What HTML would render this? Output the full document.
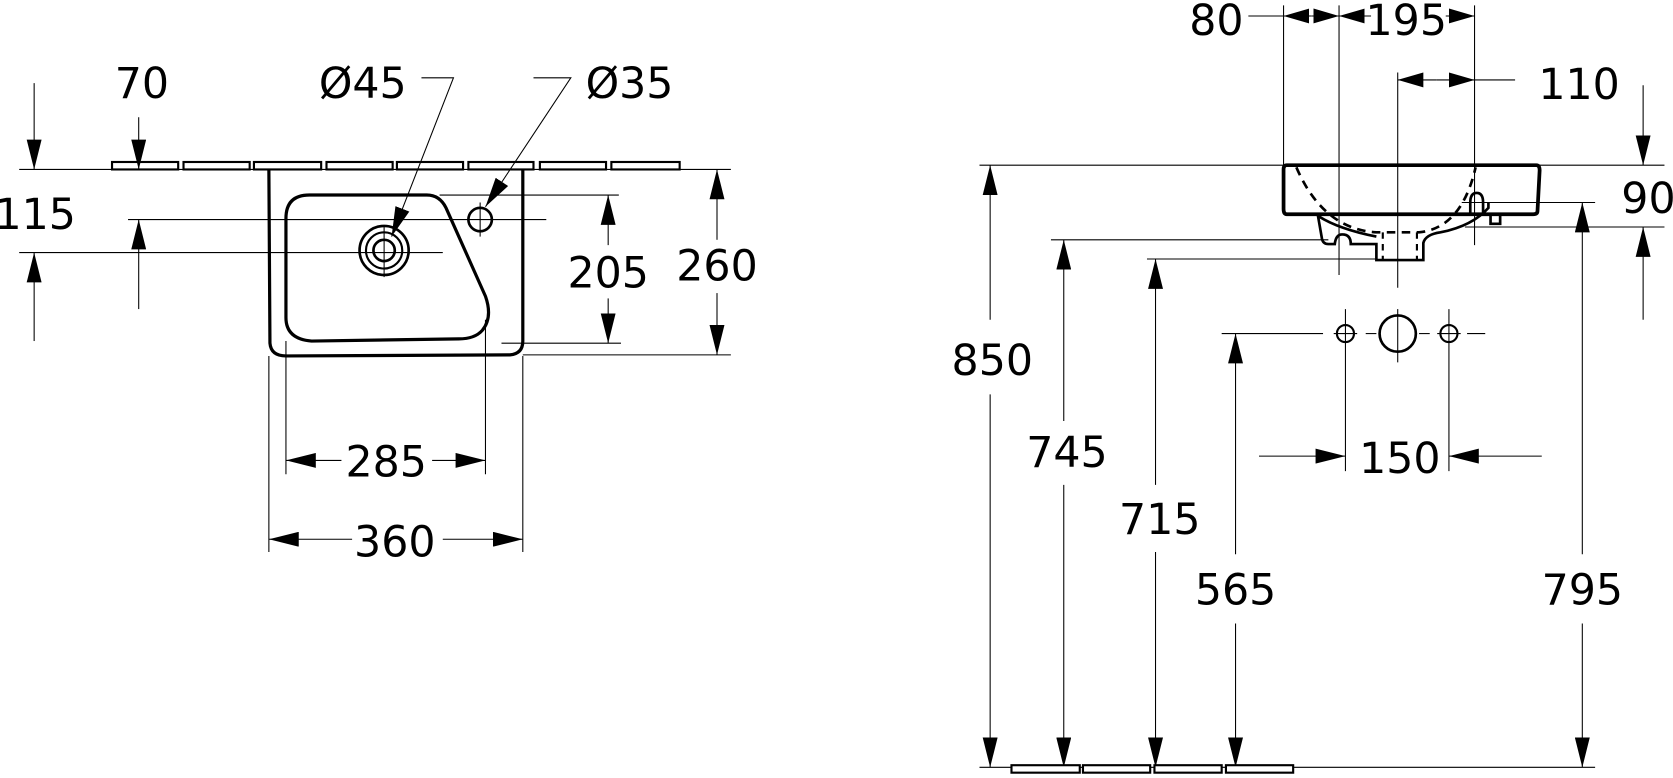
<!DOCTYPE html>
<html><head><meta charset="utf-8"><style>
html,body{margin:0;padding:0;background:#fff;}
svg{display:block;}
text{font-family:"DejaVu Sans","Liberation Sans",sans-serif;font-size:40px;fill:#000;text-anchor:middle;}
</style></head><body>
<svg width="1673" height="778" viewBox="0 0 1568 730" preserveAspectRatio="none" xmlns="http://www.w3.org/2000/svg">
<defs>
<marker id="a" markerUnits="userSpaceOnUse" markerWidth="28" markerHeight="14" refX="28" refY="7" orient="auto"><path d="M0,0 L28,7 L0,14 z" fill="#000"/></marker>
<marker id="b" markerUnits="userSpaceOnUse" markerWidth="24" markerHeight="14" refX="24" refY="7" orient="auto"><path d="M0,0 L24,7 L0,14 z" fill="#000"/></marker>
</defs>
<g stroke="#000" stroke-width="1" fill="none">
<!-- LEFT -->
<line x1="18" y1="159" x2="685" y2="159"/>
<g stroke-width="2" fill="#fff">
<rect x="105" y="152" width="62" height="7"/><rect x="172" y="152" width="62" height="7"/><rect x="238" y="152" width="63" height="7"/><rect x="306" y="152" width="62" height="7"/><rect x="372" y="152" width="62" height="7"/><rect x="439" y="152" width="61" height="7"/><rect x="506" y="152" width="62" height="7"/><rect x="573" y="152" width="64" height="7"/>
</g>
<path d="M252 159 L253 322 Q254 334 268 334 L478 333 Q490 332 490 320 L490 159" stroke-width="3"/>
<path d="M290 183 L400 183 Q412 183 418 195 L455 278 Q462 298 452 310 Q445 318 430 318 L292 320 Q268 318 268 298 L268 205 Q268 183 290 183 Z" stroke-width="3"/>
<circle cx="360" cy="235" r="23" stroke-width="2.5"/><circle cx="360" cy="235" r="17" stroke-width="2"/><circle cx="360" cy="235" r="10" stroke-width="2.5"/>
<line x1="360" y1="212" x2="360" y2="260"/>
<circle cx="450" cy="206" r="11" stroke-width="2.5"/>
<line x1="450" y1="190" x2="450" y2="222"/>
<line x1="120" y1="206" x2="512" y2="206"/>
<line x1="18" y1="237" x2="415" y2="237"/>
<line x1="412" y1="183" x2="580" y2="183"/>
<line x1="470" y1="322" x2="582" y2="322"/>
<line x1="490" y1="333" x2="685" y2="333"/>
<line x1="130" y1="110" x2="130" y2="159" marker-end="url(#a)"/>
<line x1="130" y1="290" x2="130" y2="206" marker-end="url(#a)"/>
<line x1="32" y1="78" x2="32" y2="159" marker-end="url(#a)"/>
<line x1="32" y1="320" x2="32" y2="237" marker-end="url(#a)"/>
<polyline points="395,73 425,73 367,222" marker-end="url(#a)"/>
<polyline points="500,73 535,73 455,194" marker-end="url(#a)"/>
<line x1="570" y1="230" x2="570" y2="183" marker-end="url(#a)"/>
<line x1="570" y1="280" x2="570" y2="322" marker-end="url(#a)"/>
<line x1="672" y1="225" x2="672" y2="159" marker-end="url(#a)"/>
<line x1="672" y1="275" x2="672" y2="333" marker-end="url(#a)"/>
<line x1="268" y1="320" x2="268" y2="445"/>
<line x1="455" y1="300" x2="455" y2="445"/>
<line x1="320" y1="432" x2="268" y2="432" marker-end="url(#a)"/>
<line x1="405" y1="432" x2="455" y2="432" marker-end="url(#a)"/>
<line x1="252" y1="334" x2="252" y2="518"/>
<line x1="490" y1="334" x2="490" y2="518"/>
<line x1="330" y1="506" x2="252" y2="506" marker-end="url(#a)"/>
<line x1="415" y1="506" x2="490" y2="506" marker-end="url(#a)"/>
<!-- RIGHT -->
<line x1="918" y1="155" x2="1560" y2="155"/>
<line x1="1203" y1="5" x2="1203" y2="160"/>
<line x1="1255" y1="5" x2="1255" y2="258"/>
<line x1="1310" y1="68" x2="1310" y2="270"/>
<line x1="1310" y1="290" x2="1310" y2="340"/>
<line x1="1382" y1="5" x2="1382" y2="230"/>
<line x1="1170" y1="15" x2="1203" y2="15"/>
<line x1="1229" y1="15" x2="1203" y2="15" marker-end="url(#b)"/>
<line x1="1229" y1="15" x2="1255" y2="15" marker-end="url(#b)"/>
<line x1="1285" y1="15" x2="1255" y2="15" marker-end="url(#b)"/>
<line x1="1355" y1="15" x2="1382" y2="15" marker-end="url(#b)"/>
<line x1="1346" y1="75" x2="1310" y2="75" marker-end="url(#b)"/>
<line x1="1346" y1="75" x2="1382" y2="75" marker-end="url(#b)"/>
<line x1="1382" y1="75" x2="1420" y2="75"/>
<line x1="1540" y1="80" x2="1540" y2="155" marker-end="url(#a)"/>
<line x1="1540" y1="300" x2="1540" y2="213" marker-end="url(#a)"/>
<line x1="1370" y1="190" x2="1495" y2="190"/>
<line x1="1373" y1="213" x2="1560" y2="213"/>
<path d="M1206 155 L1440 155 Q1443 155 1443 160 L1441 198 Q1441 201 1437 201 L1206 201 Q1203 201 1203 196 L1203 159 Q1203 155 1206 155 Z" stroke-width="3.5"/>
<path d="M1235 201 L1239 224 Q1240 229 1245 229 L1251 229 Q1252 220 1258 220 Q1266 220 1266 229 L1290 229 L1290 244 L1334 244 L1334 228 Q1336 220 1350 218 Q1380 212 1395 195 L1395 190 M1236 203 Q1255 215 1290 222" stroke-width="2.5"/>
<path d="M1378 200 L1378 190 Q1378 181 1384 181 Q1390 181 1390 190 L1390 200" stroke-width="2.5"/>
<path d="M1397 201 L1397 210 L1406 210 L1406 201" stroke-width="2.5"/>
<path d="M1215 157 Q1240 215 1290 218 L1330 218 Q1370 214 1383 157" stroke-width="2.5" stroke-dasharray="8,6"/>
<path d="M1296 218 L1296 244 M1328 218 L1328 244" stroke-width="2" stroke-dasharray="6,5"/>
<line x1="985" y1="225" x2="1245" y2="225"/>
<line x1="1075" y1="243" x2="1290" y2="243"/>
<line x1="1145" y1="313" x2="1240" y2="313"/>
<line x1="1280" y1="313" x2="1290" y2="313"/>
<line x1="1330" y1="313" x2="1340" y2="313"/>
<line x1="1375" y1="313" x2="1392" y2="313"/>
<circle cx="1261" cy="313" r="8" stroke-width="2"/><circle cx="1310" cy="313" r="17" stroke-width="2.5"/><circle cx="1358" cy="313" r="8" stroke-width="2"/>
<line x1="1261" y1="290" x2="1261" y2="442"/><line x1="1358" y1="290" x2="1358" y2="442"/>
<line x1="1250" y1="313" x2="1272" y2="313"/><line x1="1347" y1="313" x2="1369" y2="313"/>
<line x1="1180" y1="428" x2="1261" y2="428" marker-end="url(#a)"/>
<line x1="1445" y1="428" x2="1358" y2="428" marker-end="url(#a)"/>
<line x1="928" y1="300" x2="928" y2="155" marker-end="url(#a)"/>
<line x1="928" y1="370" x2="928" y2="720" marker-end="url(#a)"/>
<line x1="997" y1="395" x2="997" y2="225" marker-end="url(#a)"/>
<line x1="997" y1="455" x2="997" y2="720" marker-end="url(#a)"/>
<line x1="1083" y1="455" x2="1083" y2="243" marker-end="url(#a)"/>
<line x1="1083" y1="518" x2="1083" y2="720" marker-end="url(#a)"/>
<line x1="1158" y1="520" x2="1158" y2="313" marker-end="url(#a)"/>
<line x1="1158" y1="585" x2="1158" y2="720" marker-end="url(#a)"/>
<line x1="1483" y1="520" x2="1483" y2="190" marker-end="url(#a)"/>
<line x1="1483" y1="585" x2="1483" y2="720" marker-end="url(#a)"/>
<line x1="918" y1="720" x2="1495" y2="720"/>
<g stroke-width="2" fill="#fff">
<rect x="948" y="718" width="64" height="7"/><rect x="1015" y="718" width="63" height="7"/><rect x="1082" y="718" width="63" height="7"/><rect x="1149" y="718" width="63" height="7"/>
</g>
</g>
<text x="133" y="92">70</text>
<text x="33" y="215">115</text>
<text x="340" y="92">Ø45</text>
<text x="590" y="92">Ø35</text>
<text x="570" y="270">205</text>
<text x="672" y="263">260</text>
<text x="362" y="447">285</text>
<text x="370" y="522">360</text>
<text x="1140" y="33">80</text>
<text x="1318" y="33">195</text>
<text x="1480" y="93">110</text>
<text x="1545" y="200">90</text>
<text x="930" y="352">850</text>
<text x="1000" y="438">745</text>
<text x="1087" y="501">715</text>
<text x="1158" y="567">565</text>
<text x="1312" y="444">150</text>
<text x="1483" y="567">795</text>
</svg>
</body></html>
